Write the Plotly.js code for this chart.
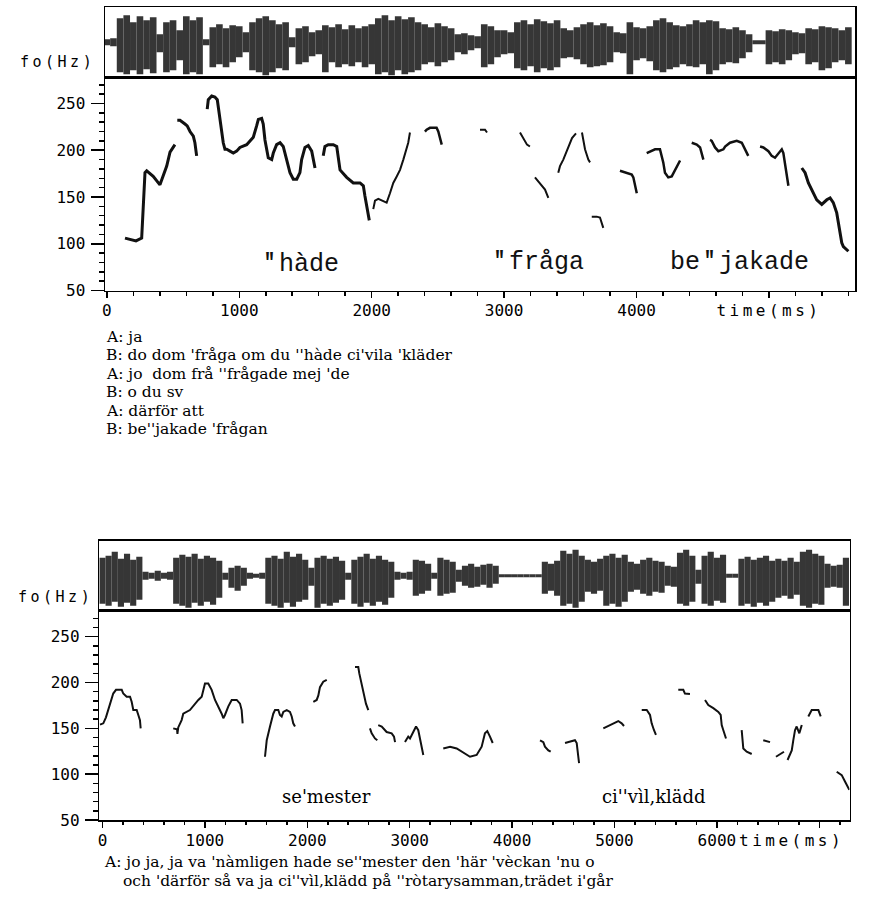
<!DOCTYPE html>
<html><head><meta charset="utf-8">
<script src="https://cdn.plot.ly/plotly-3.0.1.min.js"></script>
<style>
html,body{margin:0;padding:0;background:#fff;}
#chart{width:882px;height:902px;}
text[data-unformatted="fo(Hz)"], text[data-unformatted="time(ms)"]{letter-spacing:3.5px;}
</style></head><body><div id="chart"></div><script>
// ---------- DATA ----------
// top panel F0 contour pieces: time (ms) and F0 (Hz)
const topT = [
 [137,187,220,263,270,280,288,301,350,401,426,452,477,502,514],
 [532,552,590,607,628,653,665,673,678],
 [758,766,792,816,834,841,854,867,879,892,905,930,955,980,1005,1056,1106,1131,1144,1169,1181,1194,1207,1219,1245,1257,1282,1308,1332,1358,1383,1408,1434,1458,1471,1496,1521,1547,1559,1572],
 [1634,1647,1672,1710,1736,1748,1761,1811,1861,1912,1937,1949,1962,1974,1982],
 [2012,2025,2050,2088,2113,2138,2163,2189,2214,2239,2264,2276,2289],
 [2402,2415,2440,2490,2503,2516,2529],
 [2818,2856,2871],
 [3120,3150,3173,3195],
 [3233,3258,3284,3309,3334],
 [3409,3422,3447,3485,3513,3543],
 [3588,3598,3611,3636,3649],
 [3662,3699,3724,3737,3749],
 [3875,3926,3964,3976,3989,4002],
 [4077,4115,4140,4177,4190,4202,4215,4240,4266,4291,4316,4329],
 [4417,4455,4480,4492,4505],
 [4555,4568,4593,4618,4656,4669,4706,4757,4795,4820,4844],
 [4933,4958,4996,5021,5046,5071,5097,5109,5122,5134,5147],
 [5248,5273,5298,5323,5361,5399,5437,5462,5486,5512,5524,5537,5550,5562,5588,5600]
];
const topF = [
 [106,104,103,106,129,158,176,178,172,163,172,183,198,204,206],
 [232,232,228,226,220,215,208,201,194],
 [244,254,258,257,254,247,233,219,208,201,201,199,197,199,203,206,214,226,233,234,228,211,201,192,190,197,206,208,204,190,176,169,169,176,190,203,205,199,190,181],
 [194,204,206,206,204,190,179,171,165,165,162,151,140,128,125],
 [137,146,148,146,144,154,165,172,179,190,201,208,219],
 [220,222,224,224,220,211,206],
 [222,222,219],
 [219,211,206,204],
 [171,167,163,158,149],
 [176,183,190,204,213,218],
 [219,211,201,190,187],
 [129,129,128,122,117],
 [178,176,174,171,163,154],
 [197,199,201,201,195,187,176,171,172,179,187,189],
 [208,206,203,195,190],
 [211,210,203,199,201,204,208,210,208,201,194],
 [204,203,199,194,192,197,201,197,183,172,162],
 [181,176,165,158,147,142,147,149,144,133,122,112,101,97,94,92]
];
// bottom panel F0 contour pieces
const botT = [
 [-24,8,34,57,83,105,132,188,203,236,269,285,301,334,350,366,373],
 [691,728,732,740,773,789,854,903,936,969,984,1001,1033,1066,1099,1131,1164,1180,1196,1229,1262,1311,1343,1359,1369],
 [1587,1594,1604,1636,1668,1685,1717,1733,1750,1766,1799,1831,1848,1863,1880],
 [2059,2092,2108,2124,2156,2190],
 [2466,2498,2508,2531,2547,2573,2596],
 [2612,2629,2661,2684],
 [2693,2727,2775,2824,2847,2857],
 [2954,2986,3003,3035,3062,3084,3101,3117,3133],
 [3328,3394,3459,3524,3589,3654,3703,3735,3758,3784,3811],
 [4273,4305,4321,4354,4377],
 [4517,4549,4614,4631,4641,4654],
 [4891,4940,4988,5037,5070,5093],
 [5266,5315,5347,5363,5386,5405],
 [5623,5672,5688,5737],
 [5884,5916,5965,6014,6037,6041,6047,6063,6089],
 [6242,6252,6258,6291,6340],
 [6453,6519],
 [6577,6616,6655],
 [6690,6731,6746,6763,6779,6795,6805,6819,6829],
 [6893,6926,6991,7014],
 [7170,7219,7251,7283,7293]
];
const botF = [
 [154,155.5,162,170,181,188,192,192,188,184.5,184.5,179,170,170,164.6,159,150],
 [150,149,144,151,159,166,170,177,181,184.5,192,199,199,192,181,174,166,161,164.6,174,181,181,177,170,155.5],
 [119,130,137,152,166,170,170,164.6,163,168,170,168,163,155.5,152],
 [179,181,186,195,201,203],
 [217,217,210,199,188,177,170],
 [150,144.6,139,137],
 [153.6,152,146,144.6,141,135],
 [135,141,139,146,152,148,137,130,121],
 [128,130,128,123,119,121,130,144.6,147,141,134],
 [137,135,130,126,124.5],
 [134,135,137,134,123,112],
 [150,152.6,155.5,158,155.5,152.6],
 [170,170,164.6,155.5,148,143],
 [192,192,188,187.5],
 [181,175.5,172,168,164.6,159,153.6,148,139],
 [148,137,128,124.5,122],
 [137,135],
 [119,122,124.5],
 [115.5,126,137,148,152,148,144.6,150,153.6],
 [163,170,170,163],
 [102.7,99,92,86,83]
];
// oscillogram envelopes (amplitude above / below the zero line), one value per time bin
const topBinMs = 50;
const topUp = [3,4,24,27,20,26,22,25,8,20, 22,12,26,22,25,3,15,18,14,17, 16,10,20,24,26,22,18,20,5,14, 16,10,12,17,15,18,13,17,14,16, 18,24,27,22,26,23,25,20,18,15, 19,16,14,8,9,7,6,18,16,12, 12,10,20,22,18,23,21,19,22,14, 12,15,18,20,17,19,16,10,9,20, 15,14,16,22,24,20,17,16,18,22, 20,22,21,14,13,15,12,8,2,2, 12,11,13,12,10,9,14,13,16,15, 14,12,15];
const topDown = [3,4,30,32,28,32,27,31,10,30, 28,18,32,30,32,3,25,22,25,20, 15,10,28,30,33,30,26,28,5,22, 20,14,12,30,20,25,22,24,20,25, 22,32,30,33,28,32,30,28,22,20, 24,20,18,10,12,8,6,25,22,15, 12,11,26,28,24,30,26,28,25,16, 15,17,22,25,24,23,20,10,11,32, 18,16,19,28,30,27,25,22,24,25, 22,32,28,22,20,21,16,10,2,2, 22,20,22,18,12,11,22,20,28,26, 20,18,22];
const botBinMs = 60;
const botUp = [18,20,24,17,22,16,19,4,3,5, 3,4,18,21,19,22,17,20,18,15, 3,8,10,8,3,2,3,18,20,17, 24,19,22,16,8,18,20,17,19,15, 3,16,19,22,17,20,16,14,4,3, 4,16,15,12,3,18,16,14,6,10, 12,9,11,12,10,1.5,1.5,1.5,1.5,1.5, 1.5,1.5,14,12,15,25,22,26,20,16, 14,17,20,22,18,21,14,12,16,18, 15,14,10,9,23,26,20,6,20,24, 18,21,2,2,17,19,16,18,20,15, 17,15,18,14,24,26,22,20,12,10, 11,18];
const botDown = [28,30,26,31,27,30,24,4,3,5, 3,4,28,30,32,27,30,26,29,22, 4,12,15,10,3,2,3,28,30,32, 27,31,26,24,10,32,28,30,27,24, 4,28,31,27,30,26,29,22,4,3, 4,20,18,15,3,20,18,17,6,10, 12,11,9,12,8,1.5,1.5,1.5,1.5,1.5, 1.5,1.5,18,15,20,30,28,32,26,16, 18,15,30,28,31,26,16,14,18,20, 16,17,10,11,28,30,26,8,28,30, 25,27,2,2,30,28,31,27,30,26, 22,20,23,19,30,32,28,29,12,11, 12,30];
// texts
const topWords = ["<span style=\"letter-spacing:-11px\">'</span>'hàde", "<span style=\"letter-spacing:-11px\">'</span>'fråga", "be<span style=\"letter-spacing:-11px\">'</span>'jakade"];
const topLines = ["A: ja", "B: do dom 'fråga om du ''hàde ci'vila 'kläder", "A: jo\u00a0 dom frå ''frågade mej 'de", "B: o du sv", "A: därför att", "B: be''jakade 'frågan"];
const botWords = ["se'mester", "ci''vìl,klädd"];
const botLines = ["A: jo ja, ja va 'nàmligen hade se''mester den 'här 'vèckan 'nu o", "och 'därför så va ja ci''vìl,klädd på ''ròtarysamman,trädet i'går"];
const yLabel = "fo(Hz)";
const xLabel = "time(ms)";

// ---------- LAYOUT HELPERS ----------
const W = 882, H = 902;
const px = x => x / W;
const py = y => 1 - y / H;
const topWidths = [3,3,3,3,2,2.5,2,2,2,2,2,2,2.5,2.5,2.5,2.5,2.5,3];

const traces = [];
topT.forEach((t, i) => traces.push({x: t, y: topF[i], xaxis: 'x', yaxis: 'y', mode: 'lines',
  line: {color: '#111', width: topWidths[i]}, hoverinfo: 'skip', showlegend: false}));
botT.forEach((t, i) => traces.push({x: t, y: botF[i], xaxis: 'x3', yaxis: 'y3', mode: 'lines',
  line: {color: '#111', width: 2}, hoverinfo: 'skip', showlegend: false}));
traces.push({type: 'bar', xaxis: 'x2', yaxis: 'y2', x: topUp.map((_, i) => i * topBinMs),
  y: topUp.map((u, i) => u + topDown[i]), base: topDown.map(d => -d), width: topBinMs,
  marker: {color: '#363636', line: {width: 0}}, hoverinfo: 'skip', showlegend: false});
traces.push({type: 'bar', xaxis: 'x4', yaxis: 'y4', x: botUp.map((_, i) => i * botBinMs),
  y: botUp.map((u, i) => u + botDown[i]), base: botDown.map(d => -d), width: botBinMs,
  marker: {color: '#363636', line: {width: 0}}, hoverinfo: 'skip', showlegend: false});

const line = {showline: true, linecolor: '#000', linewidth: 1.5, mirror: true, zeroline: false, showgrid: false};
const tickF = {family: 'DejaVu Sans Mono', size: 16, color: '#000'};
const xTicks = (alias) => ({ticks: 'outside', ticklen: 6, tickwidth: 1.5, tickcolor: '#000', tickmode: 'linear', tick0: 0, dtick: 1000,
  tickformat: 'd', labelalias: alias, tickfont: tickF, ticklabelstandoff: -1,
  minor: {ticks: 'outside', ticklen: 3.5, tickwidth: 1.5, tickcolor: '#000', tick0: 0, dtick: 200, showgrid: false}});
const yTicks = {ticks: 'outside', ticklen: 13, tickwidth: 1.5, tickcolor: '#000', tickmode: 'linear', tick0: 0, dtick: 50,
  tickfont: tickF, ticklabelstandoff: 2,
  minor: {ticks: 'outside', ticklen: 5, tickwidth: 1.5, tickcolor: '#000', tick0: 0, dtick: 10, showgrid: false}};
const noTicks = {ticks: '', showticklabels: false, fixedrange: true};

const topX = [-14, 5650], botX = [-31, 7295];
const layout = {
  width: W, height: H, margin: {l: 0, r: 0, t: 0, b: 0}, paper_bgcolor: '#fff', plot_bgcolor: '#fff',
  showlegend: false, hovermode: false, barmode: 'overlay',
  font: {family: 'DejaVu Sans Mono', size: 16, color: '#000'},
  xaxis: Object.assign({}, line, xTicks({'5000': xLabel}), {domain: [px(105), px(855)], range: topX, anchor: 'y'}),
  yaxis: Object.assign({}, line, yTicks, {domain: [py(290.5), py(77.3)], range: [50, 278], anchor: 'x'}),
  xaxis2: Object.assign({}, line, noTicks, {domain: [px(105), px(855)], range: topX, anchor: 'y2'}),
  yaxis2: Object.assign({}, line, noTicks, {domain: [py(77.3), py(7.3)], range: [-35, 35], anchor: 'x2'}),
  xaxis3: Object.assign({}, line, xTicks({'7000': ''}), {domain: [px(99.3), px(849.5)], range: botX, anchor: 'y3'}),
  yaxis3: Object.assign({}, line, yTicks, {domain: [py(820), py(610.7)], range: [50, 278.4], anchor: 'x3'}),
  xaxis4: Object.assign({}, line, noTicks, {domain: [px(99.3), px(849.5)], range: botX, anchor: 'y4'}),
  yaxis4: Object.assign({}, line, noTicks, {domain: [py(610.7), py(540.7)], range: [-35, 35], anchor: 'x4'}),
  annotations: []
};
const ann = (text, x, y, font, anchor) => layout.annotations.push({text: text, x: px(x), y: py(y), xref: 'paper', yref: 'paper',
  xanchor: anchor || 'left', yanchor: 'middle', showarrow: false, font: font});
const monoBig = {family: 'Liberation Mono', size: 25, color: '#111'};
const sansMono = {family: 'DejaVu Sans Mono', size: 15, color: '#000'};
const serif = {family: 'DejaVu Serif', size: 15.5, color: '#000'};
const serifBig = {family: 'DejaVu Serif', size: 18, color: '#000'};

ann(yLabel, 18, 62, sansMono);
ann(yLabel, 16, 597, sansMono);
ann(topWords[0], 258, 264, monoBig);
ann(topWords[1], 488, 262, monoBig);
ann(topWords[2], 668, 262, monoBig);
topLines.forEach((s, i) => ann(s, 104, 337 + i * 18.4, serif));
ann(botWords[0], 280, 796, serifBig);
ann(botWords[1], 600, 796, serifBig);
ann(botLines[0], 102, 862, serif);
ann(botLines[1], 121, 881, serif);
ann(xLabel, 737, 840, {family: 'DejaVu Sans Mono', size: 16, color: '#000'});

Plotly.newPlot('chart', traces, layout, {staticPlot: true, displayModeBar: false});
</script></body></html>
